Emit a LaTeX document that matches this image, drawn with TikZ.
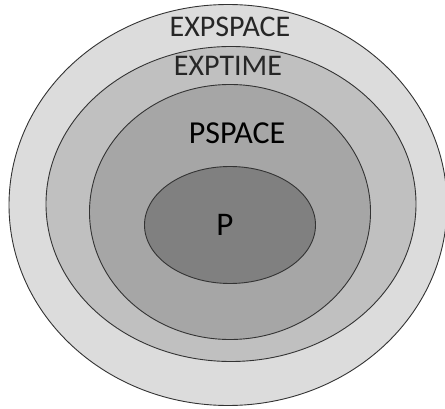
\documentclass[tikz,border=0pt]{standalone}
\usepackage{fontspec}
\setmainfont{Carlito}
\usetikzlibrary{shapes.geometric}
\definecolor{expspacegray}{HTML}{DCDCDC}
\definecolor{exptimegray}{HTML}{C0C0C0}
\definecolor{pspacegray}{HTML}{A6A6A6}
\definecolor{pgray}{HTML}{808080}
\begin{document}
\begin{tikzpicture}[x=1pt,y=-1pt]
                        \tikzstyle{every node}=[inner sep=0]
                        \tikzstyle{class}=[draw=black!80,line width=0.9,ellipse]
                        \tikzstyle{label}=[font=\fontsize{30}{32}\selectfont,text=black!85]
                        \useasboundingbox (0,0) rectangle (445,409);
                        {
                            \node[class,fill=expspacegray,minimum width=438,minimum height=401] (expspace) at (228,205) {};
                            \node[class,fill=exptimegray,minimum width=370,minimum height=315] (exptime) at (231,204) {};
                            \node[class,fill=pspacegray,minimum width=281,minimum height=255] (pspace) at (230,212) {};
                            \node[class,fill=pgray,minimum width=171,minimum height=117] (p) at (230,225) {};

                            \node[label] (expspacelabel) at (230,27) {EXPSPACE};
                            \node[label] (exptimelabel) at (228,66) {EXPTIME};
                            \node[label,text=black,font=\fontsize{32}{34}\selectfont] (pspacelabel) at (237,133) {PSPACE};
                            \node[label,text=black,font=\fontsize{33}{35}\selectfont] (plabel) at (225,225) {P};
                        }
\end{tikzpicture}
\end{document}
